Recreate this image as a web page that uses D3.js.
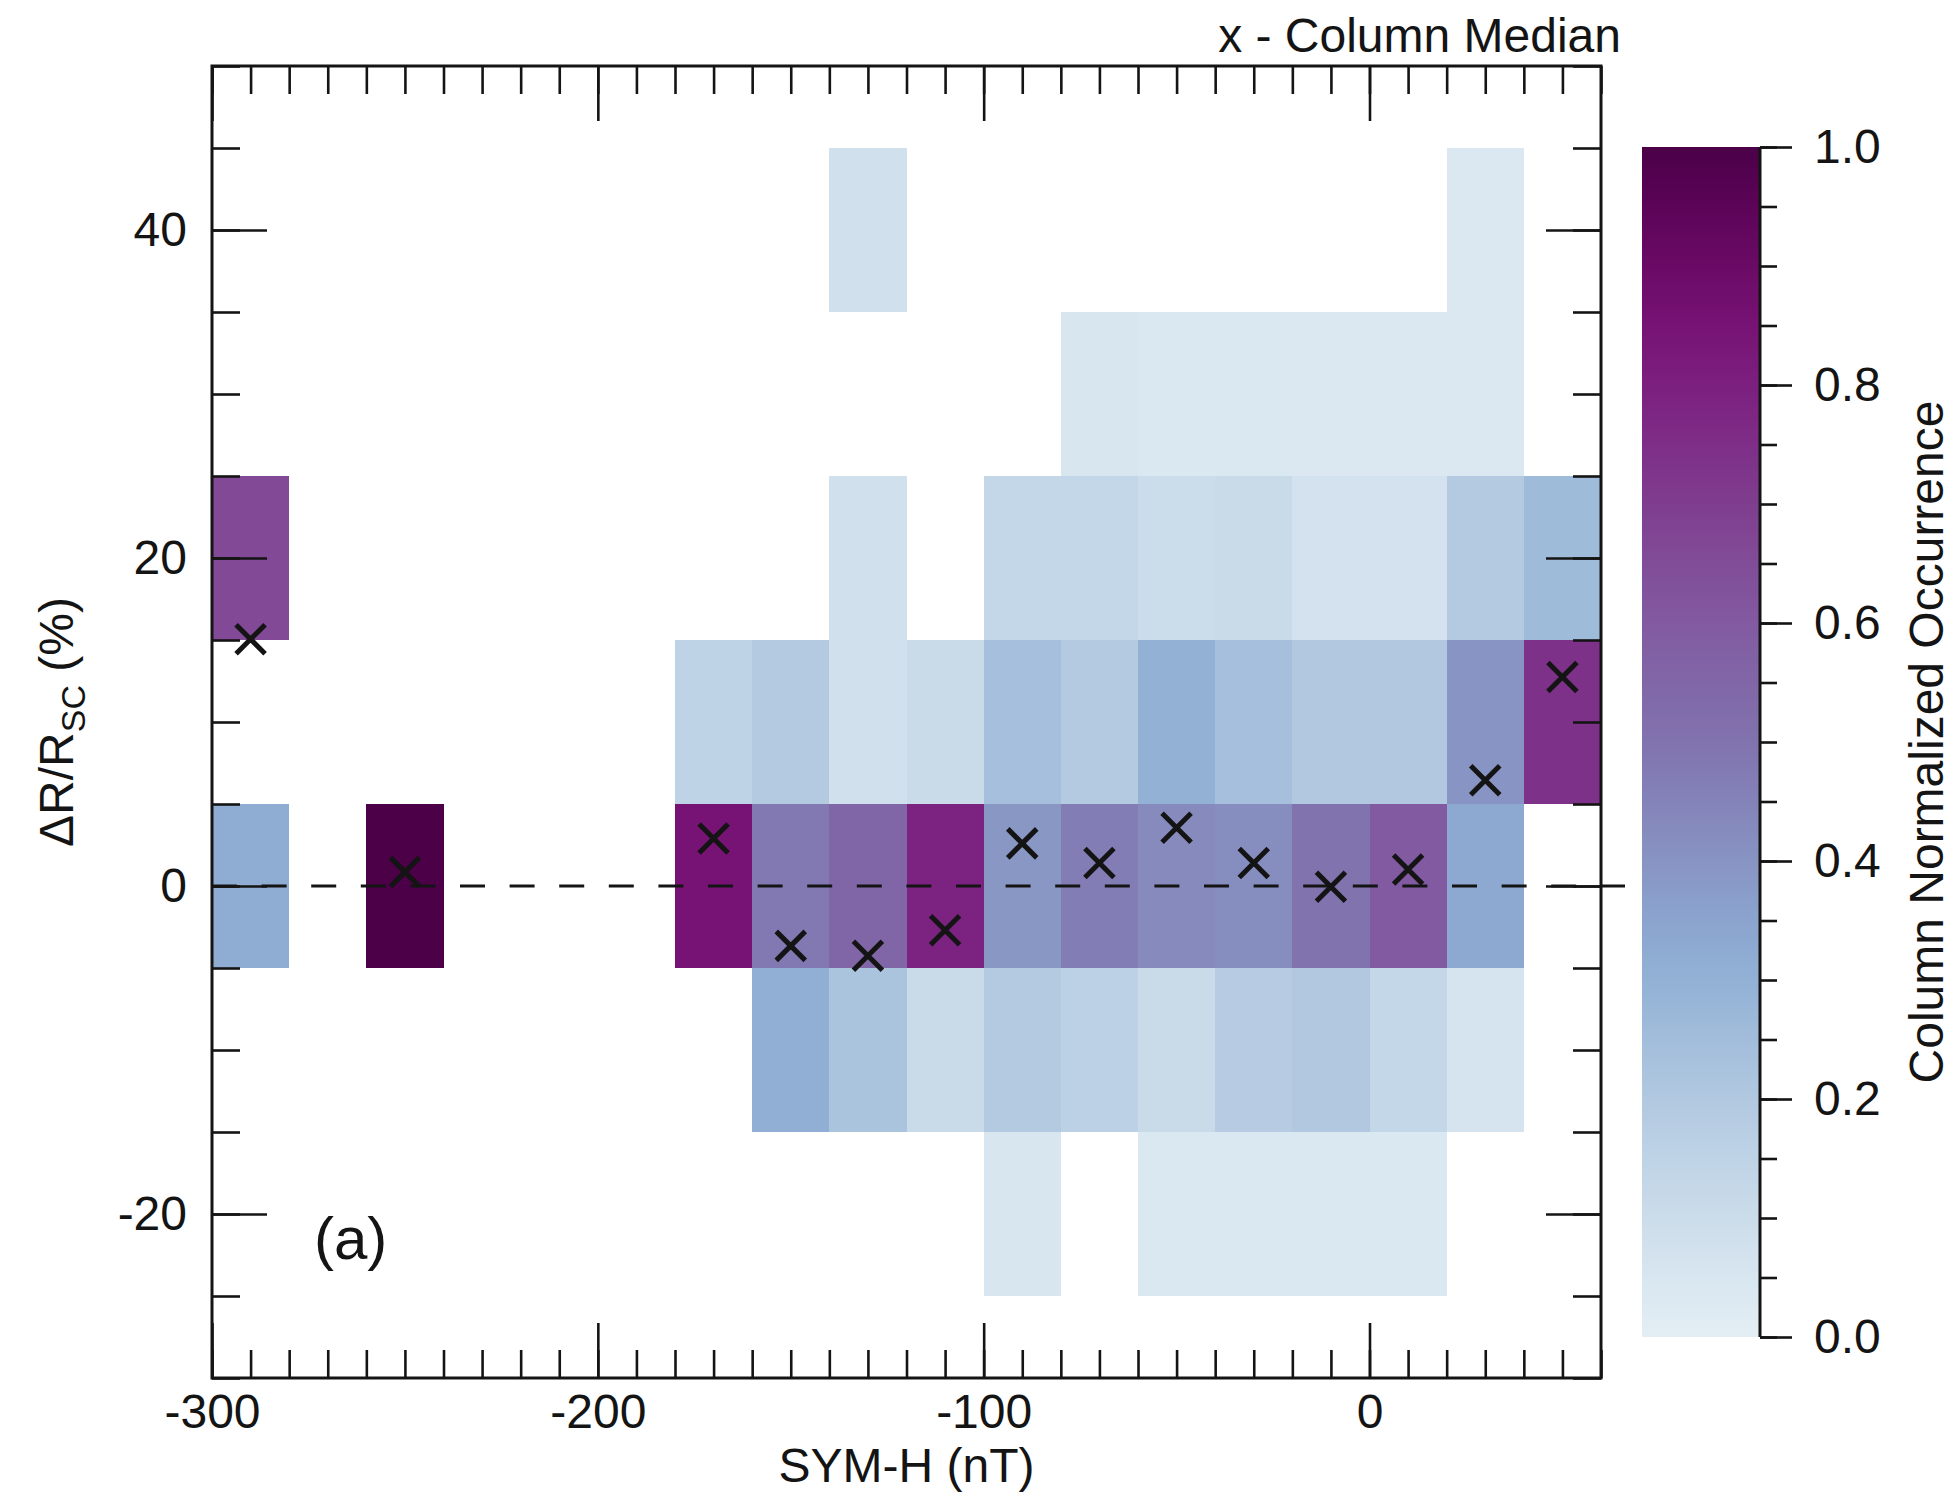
<!DOCTYPE html>
<html>
<head>
<meta charset="utf-8">
<script src="https://cdn.jsdelivr.net/npm/d3@7"></script>
<style>
  html, body { margin: 0; padding: 0; background: #ffffff; }
  svg { display: block; font-family: "Liberation Sans", Arial, Helvetica, sans-serif; }
</style>
</head>
<body>
<svg id="chart" width="1955" height="1492"></svg>
<script>
// SYM-H bin centres (nT); each bin is 20 nT wide
const symhCenters = [-290, -250, -170, -150, -130, -110, -90, -70, -50, -30, -10, 10, 30, 50];
const symhBinWidth = 20;

// ΔR/R_SC bin centres (%); each bin is 10 % tall
const dRCenters = [-20, -10, 0, 10, 20, 30, 40];
const dRBinHeight = 10;

// Column normalized occurrence: one row per SYM-H bin, one entry per ΔR bin (null = no data)
const occurrence = [
  [null, null, 0.32, null, 0.66, null, null],    // -290
  [null, null, 1.00, null, null, null, null],    // -250
  [null, null, 0.85, 0.15, null, null, null],    // -170
  [null, 0.31, 0.48, 0.19, null, null, null],    // -150
  [null, 0.22, 0.55, 0.08, 0.08, null, 0.08],    // -130
  [null, 0.11, 0.79, 0.11, null, null, null],    // -110
  [0.05, 0.19, 0.39, 0.24, 0.13, null, null],    // -90
  [null, 0.16, 0.47, 0.19, 0.13, 0.05, null],    // -70
  [0.04, 0.11, 0.43, 0.30, 0.10, 0.04, null],    // -50
  [0.04, 0.18, 0.42, 0.24, 0.11, 0.04, null],    // -30
  [0.04, 0.20, 0.50, 0.20, 0.07, 0.035, null],   // -10
  [0.04, 0.13, 0.60, 0.20, 0.07, 0.035, null],   // 10
  [null, 0.06, 0.33, 0.40, 0.19, 0.035, 0.035],  // 30
  [null, null, null, 0.74, 0.26, null, null]     // 50
];

// Median ΔR/R_SC (%) of each SYM-H column
const columnMedian = [15.05, 0.85, 2.9, -3.65, -4.25, -2.7, 2.6, 1.4, 3.55, 1.4, -0.05, 1.0, 6.45, 12.75];

// Tick labels
const xMajorTicks = [-300, -200, -100, 0];
const yMajorTicks = [-20, 0, 20, 40];
const cbarMajorTicks = [0.0, 0.2, 0.4, 0.6, 0.8, 1.0];

// Colour ramp (light blue -> purple -> dark plum)
const cmapStops  = [0.00, 0.05, 0.10, 0.15, 0.20, 0.25, 0.30, 0.35, 0.40, 0.45, 0.50,
                    0.55, 0.60, 0.65, 0.70, 0.75, 0.80, 0.85, 0.90, 0.95, 1.00];
const cmapColors = ["#e3eef4", "#d8e6f0", "#cbdcea", "#bfd3e6", "#b1c8e0", "#a2bddb", "#92b1d5",
                    "#8ba4ce", "#8894c3", "#8483b9", "#8173ae", "#8166a7", "#825aa1", "#814c98",
                    "#7f3d8f", "#7e2e87", "#7c1f7f", "#771374", "#6a0a66", "#5c0458", "#4b0048"];

// ---------------------------------------------------------------------------
const svg = d3.select("#chart");
const ink = "#141414";
const fontSize = 48;

const plot = { left: 212, right: 1601, top: 66, bottom: 1378 };
const x = d3.scaleLinear().domain([-300, 60]).range([plot.left, plot.right]);
const y = d3.scaleLinear().domain([-30, 50]).range([plot.bottom, plot.top]);
const color = d3.scaleLinear().domain(cmapStops).range(cmapColors).clamp(true);

// integer labels with a plain hyphen for negatives
const intLabel = d => String(Math.round(d));

// heat-map cells
const cells = [];
symhCenters.forEach((cx, i) => {
  dRCenters.forEach((cy, j) => {
    const v = occurrence[i][j];
    if (v !== null) cells.push({ cx, cy, v });
  });
});

svg.append("g").selectAll("rect").data(cells).join("rect")
  .attr("x", d => x(d.cx - symhBinWidth / 2))
  .attr("y", d => y(d.cy + dRBinHeight / 2))
  .attr("width", d => x(d.cx + symhBinWidth / 2) - x(d.cx - symhBinWidth / 2))
  .attr("height", d => y(d.cy - dRBinHeight / 2) - y(d.cy + dRBinHeight / 2))
  .attr("fill", d => color(d.v))
  .attr("shape-rendering", "crispEdges");

// zero reference line (runs a little past the right frame)
svg.append("line")
  .attr("x1", x(-300)).attr("x2", x(60) + 24)
  .attr("y1", y(0)).attr("y2", y(0))
  .attr("stroke", ink).attr("stroke-width", 3.2)
  .attr("stroke-dasharray", "25 24.6");

// axes: inward ticks on all four sides, minor and major
const xMinor = d3.range(-300, 61, 10);
const yMinor = d3.range(-30, 51, 5);
const minorLen = 28, majorLen = 55;

function styleAxis(g) {
  g.select(".domain").remove();
  g.selectAll(".tick line").attr("stroke", ink).attr("stroke-width", 2.6);
  g.selectAll(".tick text").attr("fill", ink).attr("font-size", fontSize)
    .attr("font-family", "Liberation Sans, Arial, Helvetica, sans-serif");
}

svg.append("g").attr("transform", `translate(0,${plot.bottom})`)
  .call(d3.axisBottom(x).tickValues(xMinor).tickSize(-minorLen).tickFormat(""))
  .call(styleAxis);
svg.append("g").attr("transform", `translate(0,${plot.bottom})`)
  .call(d3.axisBottom(x).tickValues(xMajorTicks).tickSize(-majorLen).tickPadding(16).tickFormat(intLabel))
  .call(styleAxis);
svg.append("g").attr("transform", `translate(0,${plot.top})`)
  .call(d3.axisTop(x).tickValues(xMinor).tickSize(-minorLen).tickFormat(""))
  .call(styleAxis);
svg.append("g").attr("transform", `translate(0,${plot.top})`)
  .call(d3.axisTop(x).tickValues(xMajorTicks).tickSize(-majorLen).tickFormat(""))
  .call(styleAxis);

svg.append("g").attr("transform", `translate(${plot.left},0)`)
  .call(d3.axisLeft(y).tickValues(yMinor).tickSize(-minorLen).tickFormat(""))
  .call(styleAxis);
svg.append("g").attr("transform", `translate(${plot.left},0)`)
  .call(d3.axisLeft(y).tickValues(yMajorTicks).tickSize(-majorLen).tickPadding(25).tickFormat(intLabel))
  .call(styleAxis);
svg.append("g").attr("transform", `translate(${plot.right},0)`)
  .call(d3.axisRight(y).tickValues(yMinor).tickSize(-minorLen).tickFormat(""))
  .call(styleAxis);
svg.append("g").attr("transform", `translate(${plot.right},0)`)
  .call(d3.axisRight(y).tickValues(yMajorTicks).tickSize(-majorLen).tickFormat(""))
  .call(styleAxis);

// plot frame
svg.append("rect")
  .attr("x", plot.left).attr("y", plot.top)
  .attr("width", plot.right - plot.left).attr("height", plot.bottom - plot.top)
  .attr("fill", "none").attr("stroke", ink).attr("stroke-width", 3);

// column medians
svg.append("g").selectAll("path").data(symhCenters.map((c, i) => ({ c, m: columnMedian[i] })))
  .join("path")
  .attr("transform", d => `translate(${x(d.c)},${y(d.m)})`)
  .attr("d", "M-14.5,-14.5L14.5,14.5M-14.5,14.5L14.5,-14.5")
  .attr("stroke", ink).attr("stroke-width", 5).attr("fill", "none");

// axis titles
svg.append("text")
  .attr("x", (plot.left + plot.right) / 2).attr("y", 1482)
  .attr("text-anchor", "middle").attr("font-size", fontSize).attr("fill", ink)
  .text("SYM-H (nT)");

const yTitle = svg.append("text")
  .attr("transform", `translate(73,${(plot.top + plot.bottom) / 2}) rotate(-90)`)
  .attr("text-anchor", "middle").attr("font-size", fontSize).attr("fill", ink);
yTitle.append("tspan").text("ΔR/R");
yTitle.append("tspan").attr("font-size", 34).attr("dy", 12).text("SC");
yTitle.append("tspan").attr("dy", -12).text(" (%)");

svg.append("text")
  .attr("x", 1621).attr("y", 52)
  .attr("text-anchor", "end").attr("font-size", fontSize).attr("fill", ink)
  .text("x - Column Median");

svg.append("text")
  .attr("x", 314).attr("y", 1259)
  .attr("font-size", 60).attr("fill", ink)
  .text("(a)");

// colour bar
const cbar = { left: 1642, right: 1760, top: 147, bottom: 1337 };
const cy = d3.scaleLinear().domain([0, 1]).range([cbar.bottom, cbar.top]);

const grad = svg.append("defs").append("linearGradient")
  .attr("id", "cbarGrad").attr("x1", 0).attr("y1", 1).attr("x2", 0).attr("y2", 0);
grad.selectAll("stop").data(d3.range(0, 1.0001, 0.01)).join("stop")
  .attr("offset", d => d)
  .attr("stop-color", d => color(d));

svg.append("rect")
  .attr("x", cbar.left).attr("y", cbar.top)
  .attr("width", cbar.right - cbar.left).attr("height", cbar.bottom - cbar.top)
  .attr("fill", "url(#cbarGrad)");

svg.append("g").attr("transform", `translate(${cbar.right},0)`)
  .call(d3.axisRight(cy).tickValues(d3.range(0, 1.0001, 0.05)).tickSize(17).tickFormat(""))
  .call(styleAxis);
svg.append("g").attr("transform", `translate(${cbar.right},0)`)
  .call(d3.axisRight(cy).tickValues(cbarMajorTicks).tickSize(32).tickPadding(22).tickFormat(d3.format(".1f")))
  .call(styleAxis);
svg.append("line")
  .attr("x1", cbar.right).attr("x2", cbar.right)
  .attr("y1", cbar.top).attr("y2", cbar.bottom)
  .attr("stroke", ink).attr("stroke-width", 3);

svg.append("text")
  .attr("transform", `translate(1943,${(cbar.top + cbar.bottom) / 2}) rotate(-90)`)
  .attr("text-anchor", "middle").attr("font-size", fontSize).attr("fill", ink)
  .text("Column Normalized Occurrence");
</script>
</body>
</html>
